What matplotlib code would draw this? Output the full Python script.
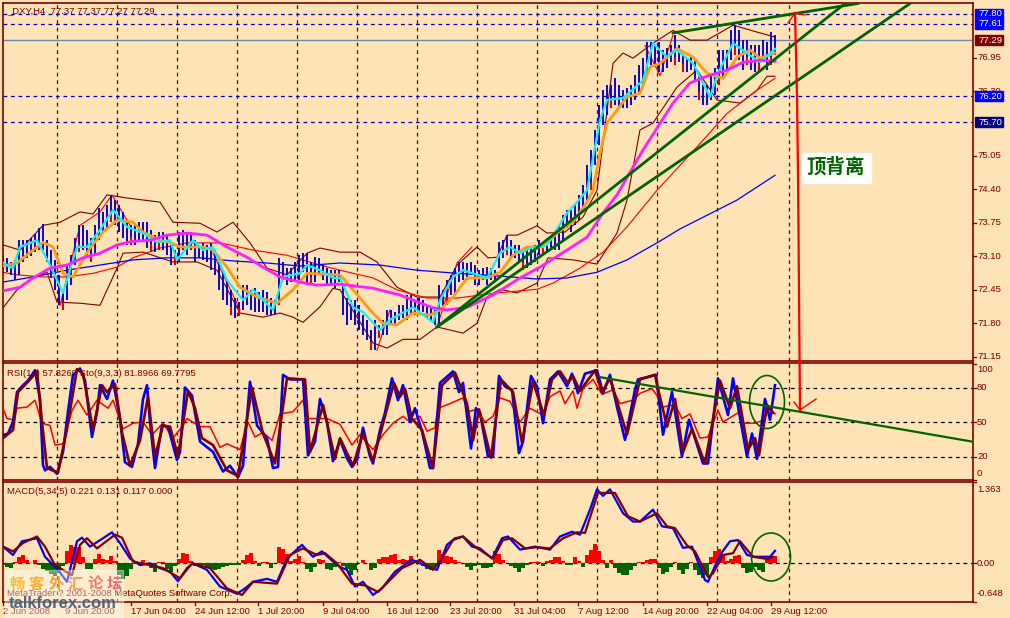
import numpy as np
import matplotlib
matplotlib.use("Agg")
import matplotlib.pyplot as plt
from matplotlib.patches import Ellipse, Rectangle

plt.rcParams['font.family'] = ['Liberation Sans', 'Noto Sans CJK SC', 'DejaVu Sans']

W, H = 1010, 618
BG = '#FDE3B5'
DARK = '#800000'
GREEN = '#006400'

# grid and time axis (x is the chart's own slot number, same as the screen column)
grid_x = [57, 117, 177, 237, 297, 357, 417, 477, 537, 597, 657, 717, 789]
tick_x = [3, 65, 131, 195, 258, 323, 387, 450, 514, 578, 643, 707, 771]
tick_labels = ['2 Jun 2008', '9 Jun 20:00', '17 Jun 04:00', '24 Jun 12:00', '1 Jul 20:00', '9 Jul 04:00',
               '16 Jul 12:00', '23 Jul 20:00', '31 Jul 04:00', '7 Aug 12:00', '14 Aug 20:00', '22 Aug 04:00',
               '29 Aug 12:00']

# price bars, one every 4 slots from slot 3
bar_high = [73.12, 73.07, 72.99, 73.03, 73.41, 73.41, 73.41, 73.45, 73.53, 73.65,
            73.72, 73.41, 73.22, 73.03, 72.74, 72.45, 72.93, 73.12, 73.45, 73.70,
            73.70, 73.61, 73.45, 73.70, 74.03, 73.96, 74.09, 74.29, 74.19, 74.09,
            73.96, 73.80, 73.70, 73.70, 73.76, 73.76, 73.76, 73.61, 73.51, 73.57,
            73.57, 73.51, 73.32, 73.22, 73.57, 73.61, 73.57, 73.57, 73.41, 73.32,
            73.36, 73.32, 73.36, 73.22, 72.99, 72.83, 72.64, 72.45, 72.29, 72.21,
            72.54, 72.54, 72.45, 72.48, 72.41, 72.45, 72.41, 72.29, 72.25, 73.07,
            72.99, 72.87, 72.87, 72.99, 73.12, 73.16, 73.16, 72.99, 73.08, 73.07,
            72.93, 72.87, 72.83, 72.83, 72.83, 72.54, 72.29, 72.25, 72.25, 72.15,
            71.96, 71.87, 71.67, 71.87, 71.77, 71.87, 72.06, 72.06, 72.02, 72.15,
            72.15, 72.35, 72.35, 72.25, 72.29, 72.25, 72.15, 72.10, 72.06, 72.54,
            72.45, 72.64, 72.74, 72.87, 72.99, 72.99, 72.97, 72.99, 72.93, 72.83,
            72.87, 72.89, 72.87, 72.83, 73.37, 73.41, 73.51, 73.41, 73.32, 73.32,
            73.22, 73.26, 73.28, 73.32, 73.41, 73.32, 73.41, 73.41, 73.51, 73.70,
            73.90, 74.00, 74.00, 74.09, 74.29, 74.48, 74.87, 75.16, 75.55, 76.03,
            76.32, 76.42, 76.42, 76.55, 76.42, 76.32, 76.36, 76.42, 76.61, 76.81,
            76.94, 77.25, 77.25, 77.19, 77.25, 77.10, 77.13, 77.19, 77.39, 77.19,
            77.00, 76.94, 77.00, 76.90, 76.61, 76.42, 76.42, 76.61, 76.75, 77.10,
            77.10, 77.10, 77.48, 77.58, 77.48, 77.29, 77.29, 77.19, 77.19, 77.19,
            77.29, 77.25, 77.44, 77.39]
bar_low = [72.83, 72.79, 72.74, 72.64, 72.74, 72.99, 73.07, 73.10, 73.18, 73.22,
           73.22, 72.99, 72.68, 72.45, 72.15, 72.06, 72.25, 72.54, 72.93, 73.18,
           73.22, 73.07, 72.99, 73.12, 73.41, 73.57, 73.65, 73.76, 73.70, 73.57,
           73.45, 73.32, 73.32, 73.32, 73.41, 73.41, 73.26, 73.18, 73.18, 73.22,
           73.22, 73.12, 72.93, 72.93, 72.99, 73.22, 73.12, 73.22, 72.99, 73.07,
           73.03, 72.99, 72.83, 72.74, 72.45, 72.25, 72.15, 71.96, 71.90, 71.94,
           72.06, 72.15, 72.06, 72.02, 72.02, 72.02, 71.96, 71.96, 71.98, 72.15,
           72.64, 72.54, 72.60, 72.60, 72.64, 72.79, 72.54, 72.54, 72.60, 72.74,
           72.64, 72.54, 72.54, 72.48, 72.60, 71.96, 71.77, 71.87, 71.77, 71.67,
           71.57, 71.48, 71.28, 71.28, 71.52, 71.57, 71.57, 71.77, 71.77, 71.87,
           71.90, 71.87, 71.96, 71.96, 72.02, 72.02, 71.90, 71.87, 71.77, 71.77,
           72.06, 72.15, 72.35, 72.35, 72.60, 72.64, 72.64, 72.74, 72.54, 72.54,
           72.64, 72.54, 72.64, 72.60, 72.87, 73.07, 73.12, 73.07, 73.07, 72.99,
           72.83, 72.87, 72.93, 72.99, 73.12, 73.12, 73.18, 73.22, 73.22, 73.22,
           73.41, 73.65, 73.57, 73.70, 73.80, 73.96, 74.19, 74.38, 74.87, 75.26,
           75.64, 75.84, 75.97, 76.03, 75.97, 75.97, 75.97, 76.03, 76.13, 76.28,
           76.42, 76.61, 76.81, 76.81, 76.67, 76.67, 76.75, 76.86, 76.81, 76.86,
           76.67, 76.67, 76.71, 76.51, 76.13, 76.03, 76.03, 76.13, 76.22, 76.42,
           76.55, 76.67, 76.90, 77.00, 76.90, 76.71, 76.81, 76.71, 76.67, 76.67,
           76.86, 76.71, 76.81, 77.00]
# bars that show a red end in the reference
red_bars = [9, 15, 19, 22, 27, 32, 37, 39, 43, 57, 59, 69, 77, 92, 94, 103, 111, 126, 130, 135,
            147, 152, 161, 168, 170, 174, 179, 183, 186, 189, 192]

# moving averages on the price panel
cyan_x = [3, 13, 20, 37, 50, 63, 77, 87, 100, 113, 127, 143, 157, 170, 177, 193, 203, 213, 227, 243,
          253, 273, 283, 300, 307, 320, 333, 340, 353, 363, 380, 390, 413, 433, 440, 453, 463, 487, 500, 510,
          520, 530, 547, 567, 577, 587, 600, 607, 623, 643, 653, 667, 677, 693, 710, 718, 733, 747, 760, 775]
cyan_y = [72.97, 72.87, 73.28, 73.41, 72.93, 72.39, 73.28, 73.28, 73.61, 74.00, 73.67, 73.55, 73.37, 73.41, 73.03,
          73.41, 73.22, 73.28, 72.64, 72.25, 72.45, 72.06, 72.70, 72.77, 72.93, 72.83, 72.68, 72.68, 72.11, 72.02,
          71.67, 71.87, 72.11, 71.82, 72.25, 72.70, 72.83, 72.68, 73.16, 73.28, 73.16, 73.26, 73.32, 73.94, 74.15,
          74.38, 75.74, 76.13, 76.17, 76.51, 77.23, 76.96, 77.10, 76.84, 76.19, 76.65, 77.23, 77.04, 76.86, 77.12]
orange_x = [3, 17, 33, 43, 53, 63, 73, 90, 103, 117, 133, 143, 160, 170, 180, 203, 213, 227, 240, 257,
            277, 293, 307, 340, 353, 370, 383, 397, 413, 430, 440, 453, 467, 487, 500, 513, 527, 543, 557, 573,
            587, 593, 600, 607, 627, 640, 650, 660, 677, 693, 707, 723, 737, 750, 760, 775]
orange_y = [72.91, 72.97, 73.22, 73.37, 73.28, 72.77, 72.70, 73.26, 73.57, 73.80, 73.76, 73.57, 73.41, 73.37, 73.28,
            73.28, 73.22, 72.89, 72.50, 72.31, 72.19, 72.45, 72.77, 72.74, 72.45, 72.06, 71.80, 71.77, 72.00, 71.96,
            72.06, 72.31, 72.68, 72.68, 72.79, 73.12, 73.28, 73.28, 73.55, 73.76, 74.15, 74.38, 75.10, 75.68, 76.19,
            76.26, 76.77, 76.84, 77.13, 76.96, 76.65, 76.55, 76.96, 77.10, 76.94, 77.04]
magenta_x = [3, 20, 33, 50, 67, 83, 100, 117, 133, 150, 167, 187, 207, 227, 247, 263, 280, 300, 317, 340,
             373, 400, 433, 447, 467, 493, 520, 540, 567, 587, 603, 617, 643, 673, 690, 707, 727, 743, 760, 775]
magenta_y = [72.43, 72.50, 72.68, 72.87, 72.93, 73.07, 73.16, 73.32, 73.39, 73.41, 73.51, 73.55, 73.51, 73.28, 73.08,
             72.89, 72.70, 72.60, 72.54, 72.56, 72.48, 72.35, 72.10, 72.06, 72.11, 72.35, 72.68, 72.89, 73.22, 73.47,
             73.94, 74.29, 75.16, 76.07, 76.46, 76.59, 76.71, 76.86, 76.90, 76.88]
slow_blue_x = [3, 33, 67, 100, 133, 167, 200, 233, 267, 300, 340, 380, 417, 457, 497, 537, 567, 597, 627, 657, 680, 737, 775]
slow_blue_y = [72.60, 72.70, 72.83, 72.93, 73.03, 73.07, 73.07, 73.01, 72.97, 72.91, 72.97, 72.93, 72.83, 72.77, 72.72,
               72.66, 72.68, 72.79, 73.03, 73.36, 73.63, 74.19, 74.67]
thin_red_x = [3, 17, 43, 67, 93, 117, 133, 160, 187, 220, 253, 287, 320, 340, 373, 397, 427, 457, 497, 537,
              553, 580, 603, 627, 657, 697, 727, 757, 775]
thin_red_y = [72.79, 72.74, 72.70, 72.70, 72.77, 72.89, 73.07, 73.26, 73.36, 73.36, 73.22, 73.12, 72.93, 72.83, 72.68,
              72.45, 72.29, 72.29, 72.39, 72.46, 72.58, 72.87, 73.18, 73.67, 74.38, 75.22, 75.87, 76.32, 76.55]
band_up_x = [3, 20, 43, 60, 80, 93, 107, 127, 160, 173, 200, 217, 233, 250, 267, 287, 307, 320, 340, 360,
             377, 397, 417, 440, 457, 477, 488, 497, 507, 517, 537, 547, 565, 583, 597, 613, 623, 633, 653, 673,
             690, 707, 733, 760, 775]
band_up_y = [73.32, 73.22, 73.70, 73.76, 73.96, 73.92, 74.29, 74.23, 74.15, 73.76, 73.74, 73.57, 73.76, 73.36, 72.87,
             72.74, 73.16, 73.26, 73.18, 73.18, 72.99, 72.50, 72.31, 72.31, 72.93, 73.28, 73.07, 73.08, 73.51, 73.51,
             73.69, 73.55, 73.57, 73.86, 74.38, 76.84, 77.04, 76.94, 77.23, 77.48, 77.29, 77.29, 77.58, 77.43, 77.35]
band_low_x = [3, 17, 30, 47, 57, 80, 100, 117, 123, 143, 173, 197, 217, 240, 263, 280, 293, 303, 320, 333,
              340, 373, 387, 403, 420, 437, 463, 477, 487, 500, 517, 537, 548, 573, 597, 617, 627, 640, 653, 657,
              677, 697, 717, 740, 757, 767, 775]
band_low_y = [72.10, 72.45, 72.64, 72.79, 72.21, 72.19, 72.15, 72.87, 73.16, 73.18, 72.99, 72.99, 72.83, 72.00, 71.92,
              72.00, 71.92, 71.82, 72.12, 72.48, 72.45, 71.42, 71.32, 71.49, 71.49, 71.73, 71.61, 71.80, 72.31, 72.46,
              72.39, 72.58, 73.07, 73.03, 72.95, 73.55, 74.19, 75.55, 75.68, 75.80, 76.38, 76.71, 76.13, 76.07, 76.32,
              76.59, 76.59]
# thin red zigzag pieces, nan breaks the line
zigzag_x = [60, 80, 100, 112, 130, np.nan, 213, 240, np.nan, 377, 390, np.nan, 437, 457, 472, np.nan, 645, 660, 673]
zigzag_y = [72.15, 73.70, 73.96, 74.29, 73.70, np.nan, 73.16, 72.06, np.nan, 71.28, 72.06, np.nan, 71.73, 72.97, 73.28,
            np.nan, 77.19, 76.60, 77.39]

# hand drawn trend lines on the price panel
trend_a_x, trend_a_y = [437, 845], [71.73, 78.00]
trend_b_x, trend_b_y = [437, 910], [71.73, 78.00]
trend_c_x, trend_c_y = [673, 858], [77.43, 78.00]

# price levels
level_blue = [77.80, 77.61, 76.20, 75.70]
last_price = 77.29
price_ticks = [76.95, 76.30, 75.05, 74.40, 73.75, 73.10, 72.45, 71.80, 71.15]
price_boxes = [(77.80, '#0000FF'), (77.61, '#0000FF'), (77.29, '#800000'), (76.20, '#0000FF'), (75.70, '#000080')]

# RSI / stochastic panel
k_x = [3, 8, 13, 17, 23, 28, 35, 40, 43, 45, 50, 57, 63, 68, 73, 80, 85, 92, 97, 100,
       107, 113, 120, 125, 132, 138, 143, 147, 150, 155, 162, 168, 177, 180, 185, 192, 200, 213, 223, 230,
       238, 243, 250, 257, 267, 273, 278, 283, 290, 303, 308, 315, 320, 327, 333, 340, 347, 352, 357, 363,
       370, 373, 380, 385, 392, 398, 403, 410, 415, 422, 430, 433, 440, 453, 459, 463, 471, 476, 480, 488,
       493, 499, 505, 512, 519, 523, 531, 537, 543, 550, 558, 567, 572, 578, 585, 597, 603, 610, 617, 625,
       635, 638, 656, 663, 672, 682, 689, 703, 708, 718, 728, 733, 747, 752, 757, 765, 770, 775]
k_y = [38.6, 40, 50, 76, 82, 86, 95, 70, 12.5, 8, 11, 5, 24, 59, 91, 96.5, 86, 37, 59, 82,
       70, 86, 53, 15, 11, 31, 70, 82, 50, 10, 47, 46, 17, 24, 80, 73, 33, 24, 7, 12,
       2, 12, 85, 47, 36, 10, 11, 91, 87, 87, 21, 33, 70, 50, 16, 34.5, 18.5, 11, 17, 45,
       20, 14, 43, 58, 88, 69, 82, 50, 62, 42, 10, 10, 84, 94, 76, 84, 27, 62, 58, 20,
       20, 90, 81, 78, 23, 33, 90, 81, 49, 87, 94, 81, 92, 75, 92, 95, 75, 91, 63, 34.5,
       78, 87, 91, 39, 76, 20, 52, 14, 14, 88, 56, 88, 20, 40, 18, 70, 52, 82]
d_x = [3, 13, 18, 28, 37, 42, 47, 58, 67, 77, 83, 93, 102, 107, 115, 122, 130, 140, 148, 155,
       163, 170, 178, 188, 195, 202, 213, 227, 238, 252, 263, 275, 287, 305, 310, 323, 335, 340, 353, 363,
       373, 385, 394, 400, 405, 412, 422, 433, 442, 455, 467, 473, 479, 491, 501, 513, 522, 533, 544, 552,
       560, 568, 573, 580, 595, 602, 610, 627, 640, 655, 658, 667, 675, 683, 692, 705, 720, 730, 737, 748,
       755, 759, 767, 773]
d_y = [36, 43, 76, 85, 94, 50, 10, 6, 44, 96, 92, 43, 82, 76, 83, 41, 12, 34, 72, 20,
       47, 46, 20, 77, 62, 36, 30, 8, 3, 80, 40, 14, 88, 87, 24, 65, 18, 36, 12, 40,
       16, 55, 84, 72, 79, 53, 43, 10, 82, 93, 66, 34, 61, 19, 87, 76, 32, 85, 56, 87,
       94, 84, 90, 77, 95, 76, 88, 39, 87, 91, 79, 46, 70, 24, 44, 14, 86, 62, 81, 26,
       36, 21, 65, 58]
rsi_x = [3, 7, 13, 17, 27, 35, 42, 50, 55, 63, 72, 78, 87, 97, 108, 113, 123, 133, 143, 152,
         163, 173, 183, 187, 200, 210, 220, 227, 240, 248, 255, 263, 272, 280, 293, 303, 308, 315, 327, 340,
         352, 360, 373, 383, 393, 403, 410, 420, 427, 435, 438, 450, 463, 468, 477, 485, 493, 500, 510, 520,
         530, 543, 550, 560, 565, 573, 577, 583, 593, 602, 613, 620, 633, 640, 652, 657, 662, 675, 682, 690,
         700, 708, 718, 723, 740, 743, 755, 765, 768, 775]
rsi_y = [62, 53, 52, 62, 63, 69, 49, 47, 30, 31, 60, 69, 56, 69, 62, 69, 44, 49, 50, 39,
         49, 36, 47, 53, 46, 46, 28, 31, 26, 50, 37, 41, 34, 57, 59, 69, 53, 53, 53, 48,
         30, 39, 26, 39, 49, 55, 50, 55, 42, 45, 62, 66, 71, 59, 61, 50, 55, 71, 68, 50,
         62, 56, 72, 77, 66, 77, 62, 79, 87, 74, 78, 66, 69, 75, 79, 73, 63, 65, 53, 57,
         36, 37, 60, 50, 59, 49, 49, 52, 62, 57]
rsi_levels = [80, 50, 20]
rsi_trend_x, rsi_trend_y = [600, 972], [89, 33]

# MACD panel
macd_x = [3, 13, 22, 37, 45, 58, 67, 77, 82, 90, 103, 112, 120, 130, 140, 150, 160, 170, 178, 187,
          193, 207, 220, 237, 245, 253, 267, 277, 287, 302, 313, 322, 333, 340, 347, 355, 363, 373, 382, 395,
          412, 428, 437, 447, 455, 463, 472, 480, 492, 502, 508, 520, 535, 550, 560, 572, 580, 590, 597, 603,
          610, 623, 633, 640, 653, 662, 673, 683, 692, 705, 708, 720, 730, 738, 747, 755, 763, 770, 775]
macd_y = [.28, .14, .37, .42, .11, -.11, -.31, .37, .43, .28, .42, .52, .34, .08, -.03, 0, -.08, -.14, -.30, -.08,
          0, -.11, -.39, -.51, -.42, -.31, -.26, -.31, .08, .31, .11, .20, .03, -.06, -.11, -.39, -.31, -.53, -.42, -.14,
          .06, -.06, -.11, .31, .42, .45, .28, .25, .08, .42, .45, .23, .28, .23, .45, .53, .48, .90, 1.24, 1.13,
          1.24, .84, .70, .70, .90, .62, .59, .26, .28, -.28, -.31, .14, .37, .39, .14, .11, .11, .11, .21]
signal_x = [3, 13, 23, 37, 45, 55, 72, 80, 87, 97, 115, 122, 133, 150, 163, 180, 192, 210, 227, 242,
            253, 277, 290, 303, 317, 325, 337, 352, 365, 378, 402, 420, 433, 443, 453, 463, 475, 493, 503, 512,
            525, 537, 550, 563, 577, 585, 598, 615, 628, 640, 657, 667, 675, 687, 695, 708, 713, 723, 733, 740,
            753, 768, 773]
signal_y = [.28, .20, .34, .45, .28, -.03, -.20, .31, .42, .25, .48, .43, .03, -.03, -.08, -.25, 0, -.08, -.42, -.53,
            -.31, -.34, .14, .25, .14, .17, 0, -.34, -.37, -.48, -.08, .06, -.11, .11, .39, .45, .28, .08, .39, .42,
            .25, .27, .25, .42, .52, .51, 1.18, 1.18, .79, .70, .84, .62, .59, .30, .20, -.23, -.17, .14, .17, .37,
            .11, .07, .11]
hist_y = [-.03, -.06, -.08, .02, .10, .14, .06, .01, .06, -.02,
          -.10, -.13, -.18, -.22, -.16, -.05, .20, .30, .28, .28,
          .10, -.10, -.10, .08, .15, .08, .06, .12, .04, -.20,
          -.26, -.22, -.10, -.01, .02, .05, -.02, -.08, -.15, .02,
          .02, -.10, -.15, -.05, .08, .18, .15, .04, -.04, -.05,
          -.02, -.06, -.10, -.12, -.10, -.06, -.05, -.03, -.03, -.03,
          .05, .14, .18, .04, -.04, .03, .02, -.07, .01, .27,
          .24, .16, .04, .08, .12, .02, -.10, -.14, -.06, .08,
          .05, -.10, -.12, -.06, .02, -.04, -.10, -.20, -.12, 0,
          .06, 0, -.12, -.08, .08, .10, .10, .14, .16, .06,
          .08, .06, .12, .05, .04, -.04, -.10, -.12, -.06, .22,
          .16, .12, .10, .05, .02, .01, -.06, -.12, -.05, -.03,
          -.08, -.08, -.06, .20, .15, .05, .01, -.04, -.08, -.14,
          -.08, -.02, .02, .02, .02, -.05, .04, .06, .10, .10,
          .04, -.02, -.03, .10, .04, -.06, .14, .22, .33, .20,
          .05, -.08, .06, -.08, -.16, -.20, -.20, -.12, -.05, .02,
          .03, .05, .07, .08, -.08, -.18, -.14, -.06, .02, -.12,
          -.18, -.10, .02, -.12, -.20, -.25, -.20, .10, .20, .24,
          .15, .04, .08, .12, .14, -.08, -.16, -.14, -.06, -.12,
          -.14, .08, .10, .12]

bar_x = np.arange(len(bar_high)) * 4 + 3

# everything that crosses panels is marked up by hand on top of the screenshot
arrow_x, arrow_y = [795, 797, 798, 800], [13, 95, 173, 410]
arrow_up_x, arrow_up_y = [788, 795, 805], [23, 13, 15]
arrow_down_x, arrow_down_y = [794, 800, 816], [402, 410, 399]

# watermark characters, each with its own colour
mark_chars = ['畅', '客', '外', '汇', '论', '坛']
mark_colors = ['#F5C040', '#F5B040', '#F0A040', '#F0A060', '#F08070', '#F07070']


def px_axes(top, bottom, left=3, right=973):
    return fig.add_axes([left / W, 1 - bottom / H, (right - left) / W, (bottom - top) / H])


fig = plt.figure(figsize=(W / 100, H / 100), dpi=100, facecolor=BG)
ax1 = px_axes(3, 361)
ax2 = px_axes(363, 480)
ax3 = px_axes(482, 602)

ax1.set_ylim(71.07, 78.01)
ax2.set_ylim(-0.4, 101.3)
ax3.set_ylim(-0.648, 1.363)

for ax in (ax1, ax2, ax3):
    ax.set_facecolor(BG)
    ax.set_xlim(3, 973)
    for s in ax.spines.values():
        s.set_color(DARK)
        s.set_linewidth(1.2)
    ax.set_xticks([])
    ax.set_yticks([])
    ax.vlines(grid_x, 0, 1, transform=ax.get_xaxis_transform(), color=DARK, lw=0.9, ls=(0, (3, 3)), zorder=1)

# price panel
for lv in level_blue:
    ax1.axhline(lv, color='#0000C0', lw=0.9, ls=(0, (3, 3)), zorder=1)
ax1.axhline(last_price, color='#6C8CB4', lw=1, zorder=1)
ax1.plot(band_up_x, band_up_y, color=DARK, lw=0.8, zorder=2)
ax1.plot(band_low_x, band_low_y, color=DARK, lw=0.8, zorder=2)
ax1.plot(thin_red_x, thin_red_y, color='#FF0000', lw=0.8, zorder=2)
ax1.plot(slow_blue_x, slow_blue_y, color='#0000FF', lw=0.9, zorder=2)
ax1.plot(zigzag_x, zigzag_y, color='#FF0000', lw=0.8, zorder=2)
ax1.vlines(bar_x, bar_low, bar_high, color='#0808D0', lw=1.4, zorder=3)
for i in red_bars:
    ax1.vlines(bar_x[i], bar_low[i], bar_low[i] + 0.16, color='#F00000', lw=1.4, zorder=3.5)
ax1.plot(orange_x, orange_y, color='#FF9A14', lw=2, zorder=4)
ax1.plot(cyan_x, cyan_y, color='#14F0F0', lw=1.6, zorder=5)
ax1.plot(magenta_x, magenta_y, color='#FF1EFF', lw=2, zorder=5)
ax1.plot(trend_a_x, trend_a_y, color=GREEN, lw=2, zorder=6)
ax1.plot(trend_b_x, trend_b_y, color=GREEN, lw=2, zorder=6)
ax1.plot(trend_c_x, trend_c_y, color=GREEN, lw=2, zorder=6)

# oscillators
for lv in rsi_levels:
    ax2.axhline(lv, color='black', lw=0.9, ls=(0, (3, 3)), zorder=1)
ax2.plot(rsi_x, rsi_y, color='#FF0000', lw=1.1, zorder=3)
ax2.plot(k_x, k_y, color='#0000FF', lw=1.9, zorder=4)
ax2.plot(d_x, d_y, color=DARK, lw=1.9, zorder=5)
ax2.plot(rsi_trend_x, rsi_trend_y, color=GREEN, lw=1.6, zorder=6)

ax3.axhline(0, color='black', lw=0.9, ls=(0, (3, 3)), zorder=1)
hist_colors = ['#FF0000' if v > 0 else GREEN for v in hist_y]
ax3.bar(bar_x, hist_y, width=4, color=hist_colors, zorder=2)
ax3.plot(macd_x, macd_y, color='#0000FF', lw=1.6, zorder=3)
ax3.plot(signal_x, signal_y, color=DARK, lw=1.6, zorder=4)

# overlay in screen pixels for labels and the hand drawn marks
ov = fig.add_axes([0, 0, 1, 1], facecolor='none')
ov.set_xlim(0, W)
ov.set_ylim(H, 0)
ov.axis('off')

TXT = dict(color=DARK, fontsize=6.8)
ax1.text(7, 11, '_DXY,H4  77.37 77.37 77.27 77.29', transform=ov.transData, va='center', zorder=8, **TXT)
ax2.text(7, 373, 'RSI(14) 57.8269 Sto(9,3,3) 81.8966 69.7795', transform=ov.transData, va='center', zorder=2, **TXT)
ax3.text(7, 492, 'MACD(5,34,5) 0.221 0.131 0.117 0.000', transform=ov.transData, va='center', zorder=1.5, **TXT)
ax3.text(7, 593, 'MetaTrader ? 2001-2008 MetaQuotes Software Corp.', transform=ov.transData, va='center', zorder=1.5, **TXT)

# right hand scale
for v in price_ticks:
    y = ax1.transData.transform((0, v))[1]
    ov.plot([973, 976], [H - y, H - y], color=DARK, lw=0.9)
    ov.text(977, H - y, '%.2f' % v, va='center', **TXT)
for v, c in price_boxes:
    y = H - ax1.transData.transform((0, v))[1]
    ov.add_patch(Rectangle((975, y - 5), 28, 10, color=c, zorder=5))
    ov.text(978, y, '%.2f' % v, va='center', color='white', fontsize=6.8, zorder=6)
for v, lab, dy in [(100, '100', 5), (80, '80', 0), (50, '50', 0), (20, '20', 0), (0, '0', -6)]:
    y = H - ax2.transData.transform((0, v))[1]
    ov.plot([973, 976], [y, y], color=DARK, lw=0.9)
    ov.text(977, y + dy, lab, va='center', **TXT)
for v, lab, dy in [(1.363, '1.363', 7), (0.0, '0.00', 0), (-0.648, '-0.648', -8)]:
    y = H - ax3.transData.transform((0, v))[1]
    ov.plot([973, 976], [y, y], color=DARK, lw=0.9)
    ov.text(977, y + dy, lab, va='center', **TXT)

# time labels
for x, lab in zip(tick_x, tick_labels):
    ov.plot([x, x], [602, 605], color=DARK, lw=0.9)
    ov.text(x, 611, lab, va='center', ha='left', **TXT)

# arrows, circles and the note
ov.plot(arrow_x, arrow_y, color='#FF0000', lw=1.6, zorder=7)
ov.plot(arrow_up_x, arrow_up_y, color='#FF0000', lw=1, zorder=7)
ov.plot(arrow_down_x, arrow_down_y, color='#FF0000', lw=1, zorder=7)
ov.add_patch(Ellipse((767, 402), 35, 53, fill=False, ec=GREEN, lw=1.2, zorder=7))
ov.add_patch(Ellipse((771, 557), 39, 48, fill=False, ec=GREEN, lw=1.2, zorder=7))
ov.add_patch(Rectangle((802, 153), 69, 30, color='white', zorder=7))
ov.text(836, 167, '顶背离', color=GREEN, fontsize=14, fontweight='bold', ha='center', va='center',
        family=['Noto Sans CJK SC', 'DejaVu Sans'], zorder=8)

# site watermark
ov.add_patch(Rectangle((5, 570), 118, 48, color='white', alpha=0.4, zorder=9))
for n, (ch, col) in enumerate(zip(mark_chars, mark_colors)):
    ov.text(17 + n * 19.5, 584, ch, color=col, fontsize=11, fontweight='bold', ha='center', va='center',
            family=['Noto Sans CJK SC', 'DejaVu Sans'], zorder=10)
ov.text(9, 604, 'talkforex.com', color='#3C5A78', fontsize=12, fontweight='bold', va='center', alpha=0.9, zorder=10)

fig.savefig('out.png', dpi=100, facecolor=BG)
